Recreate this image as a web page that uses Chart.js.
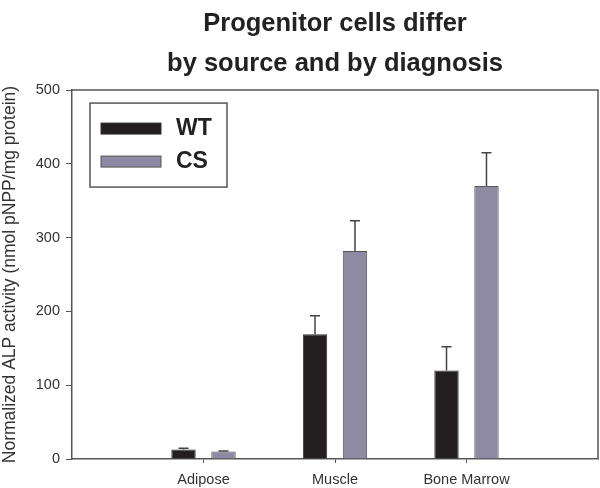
<!DOCTYPE html>
<html>
<head>
<meta charset="utf-8">
<script src="https://cdn.jsdelivr.net/npm/chart.js@4/dist/chart.umd.min.js"></script>
<style>
  html, body { margin: 0; padding: 0; background: #fff; }
  #wrap { width: 600px; height: 488px; }
</style>
</head>
<body>
<div id="wrap"><canvas id="chart" width="600" height="488"></canvas></div>
<script>
// empty slots at both ends keep the groups away from the frame
const categories = ["", "Adipose", "Muscle", "Bone Marrow", ""];
const wtValues = [null, 13, 169, 120, null];
const wtErrors = [null, 1.5, 25, 32, null];
const csValues = [null, 10, 282, 370, null];
const csErrors = [null, 1, 41, 45, null];
const yTicks = [0, 100, 200, 300, 400, 500];

const FONT = "'Liberation Sans', Arial, Helvetica, sans-serif";
const AXIS = "#555";

const errorBars = {
  id: "errorBars",
  afterDatasetsDraw(chart) {
    const ctx = chart.ctx;
    const y = chart.scales.y;
    ctx.save();
    ctx.strokeStyle = "#444";
    ctx.lineWidth = 1.5;
    chart.data.datasets.forEach((ds, i) => {
      const meta = chart.getDatasetMeta(i);
      meta.data.forEach((bar, j) => {
        const v = ds.data[j];
        const e = ds.errors[j];
        if (v == null || e == null) return;
        const top = y.getPixelForValue(v + e);
        ctx.beginPath();
        ctx.moveTo(bar.x, bar.y);
        ctx.lineTo(bar.x, top);
        ctx.moveTo(bar.x - 5, top);
        ctx.lineTo(bar.x + 5, top);
        ctx.stroke();
      });
    });
    ctx.restore();
  }
};

const frame = {
  id: "frame",
  afterDraw(chart) {
    const { left, top, right, bottom } = chart.chartArea;
    const ctx = chart.ctx;
    ctx.save();
    ctx.strokeStyle = AXIS;
    ctx.lineWidth = 1.5;
    ctx.beginPath();
    ctx.moveTo(left, top);
    ctx.lineTo(right, top);
    ctx.lineTo(right, bottom);
    ctx.stroke();
    ctx.restore();
  }
};

const boxLegend = {
  id: "boxLegend",
  afterDraw(chart) {
    const ctx = chart.ctx;
    const a = chart.chartArea;
    const bx = a.left + 18, by = a.top + 13;
    ctx.save();
    ctx.strokeStyle = AXIS;
    ctx.lineWidth = 1.5;
    ctx.strokeRect(bx, by, 137, 84);
    ctx.font = "bold 23px " + FONT;
    ctx.textBaseline = "middle";
    chart.data.datasets.forEach((ds, i) => {
      const sy = by + 20 + i * 33;
      ctx.fillStyle = ds.backgroundColor;
      ctx.fillRect(bx + 11, sy, 60, 11);
      ctx.lineWidth = 1;
      ctx.strokeStyle = ds.borderColor;
      ctx.strokeRect(bx + 11, sy, 60, 11);
      ctx.fillStyle = "#222";
      ctx.fillText(ds.label, bx + 86, sy + 6);
    });
    ctx.restore();
  }
};

new Chart(document.getElementById("chart"), {
  type: "bar",
  data: {
    labels: categories,
    datasets: [
      { label: "WT", data: wtValues, errors: wtErrors, backgroundColor: "#231f20", borderColor: "#333", borderWidth: 1 },
      { label: "CS", data: csValues, errors: csErrors, backgroundColor: "#8f8aa3", borderColor: "#555", borderWidth: 1 }
    ]
  },
  options: {
    responsive: false,
    animation: false,
    categoryPercentage: 0.608,
    barPercentage: 0.61,
    layout: { padding: { left: 0, right: 2, top: 0, bottom: 0 } },
    plugins: {
      legend: { display: false },
      tooltip: { enabled: false },
      title: {
        display: true,
        fullSize: false,
        text: ["Progenitor cells differ", "by source and by diagnosis"],
        color: "#222",
        font: { family: FONT, size: 25.5, weight: "bold", lineHeight: 1.57 },
        padding: { top: 4, bottom: 6 }
      }
    },
    scales: {
      x: {
        offset: false,
        grid: {
          offset: false,
          drawOnChartArea: false,
          tickLength: 4,
          color: c => (c.index === 0 || c.index === categories.length - 1) ? "rgba(0,0,0,0)" : AXIS
        },
        border: { color: AXIS, width: 1.5 },
        ticks: { color: "#333", font: { family: FONT, size: 14.5 }, padding: 8, maxRotation: 0, autoSkip: false },
        afterFit: s => { s.height = 29; s.paddingLeft = 0; s.paddingRight = 0; }
      },
      y: {
        min: 0,
        max: 500,
        afterBuildTicks: s => { s.ticks = yTicks.map(v => ({ value: v })); },
        grid: { drawOnChartArea: false, tickLength: 6, color: AXIS },
        border: { color: AXIS, width: 1.5 },
        ticks: { color: "#333", font: { family: FONT, size: 14.5 }, padding: 6 },
        title: {
          display: true,
          text: "Normalized ALP activity (nmol pNPP/mg protein)",
          color: "#333",
          font: { family: FONT, size: 17.5, lineHeight: 1.2 },
          padding: { top: 0, bottom: 0 }
        },
        afterFit: s => { s.width = 72; }
      }
    }
  },
  plugins: [errorBars, frame, boxLegend]
});
</script>
</body>
</html>
